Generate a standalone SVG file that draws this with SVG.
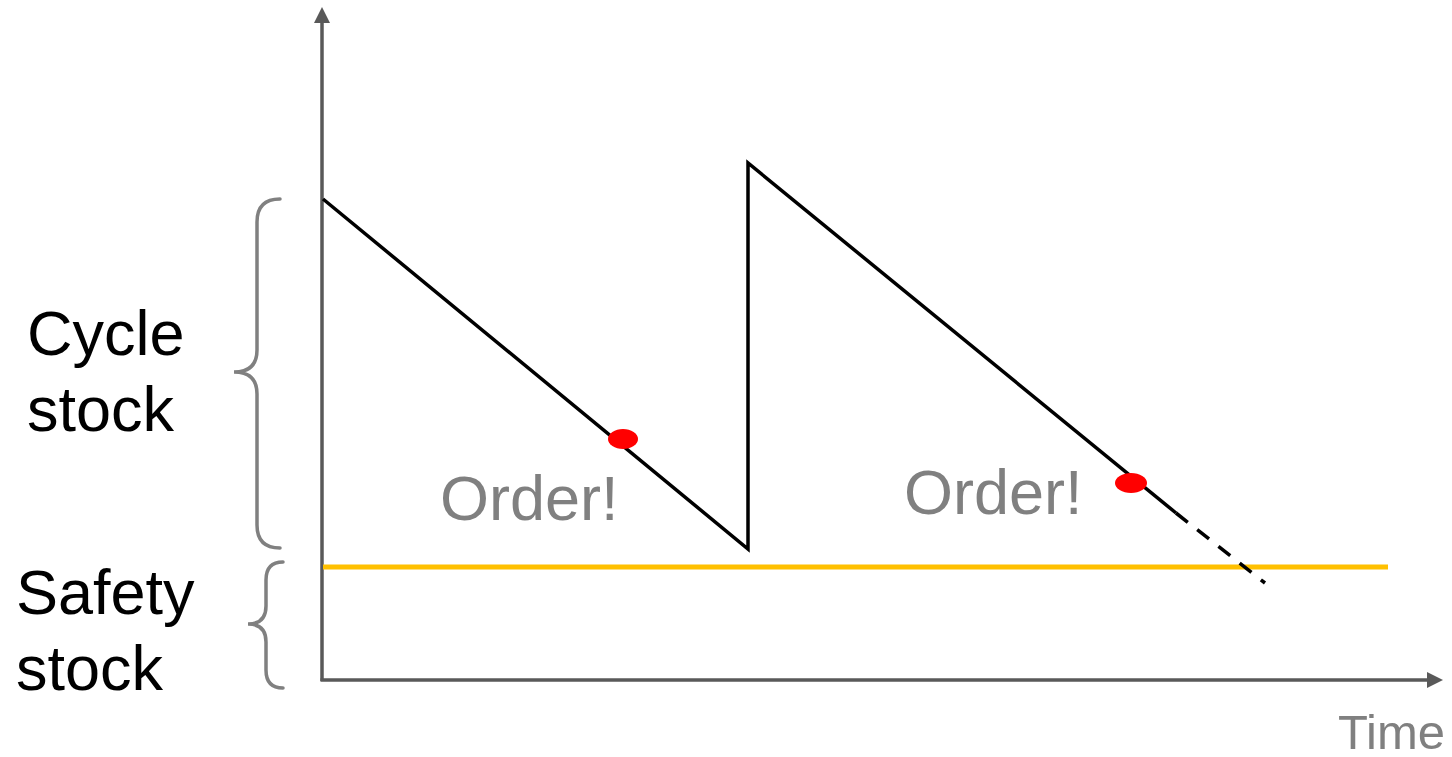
<svg xmlns="http://www.w3.org/2000/svg" width="1452" height="757" viewBox="0 0 1452 757">
<style>
.axis{stroke:#595959;stroke-width:3.5;fill:none}
.head{fill:#595959}
.brace{stroke:#808080;stroke-width:3.5;fill:none;stroke-linecap:round}
.saw{stroke:#000;stroke-width:3.5;fill:none}
.lbl{font-family:"Liberation Sans",Arial,sans-serif;font-size:63px;fill:#000}
.glbl{font-family:"Liberation Sans",Arial,sans-serif;font-size:63px;fill:#808080}
</style>
<rect width="1452" height="757" fill="#fff"/>
<g id="connectors">
<line class="axis" x1="322" y1="681" x2="322" y2="20"/>
<polygon class="head" points="322,7 330,23 314,23"/>
<line class="axis" x1="320.5" y1="680" x2="1430" y2="680"/>
<polygon class="head" points="1443,680 1427,672 1427,688"/>
<line x1="323" y1="567" x2="1388" y2="567" stroke="#FFC000" stroke-width="5"/>
<polyline class="saw" points="323,199 748,549 748,163 1176,513"/>
<line class="saw" x1="1176" y1="513" x2="1265" y2="583" stroke-dasharray="15,12"/>
</g>
<g id="cycle-brace"><path class="brace" d="M280,199 Q257,199 257,222 L257,350 Q257,372 234,372 Q257,372 257,394 L257,525 Q257,548 280,548"/></g>
<g id="safety-brace"><path class="brace" d="M283,562 Q266,562 266,580 L266,606 Q266,624 248,624 Q266,624 266,642 L266,670 Q266,688 283,688"/></g>
<g id="cycle-label"><text class="lbl" x="27" y="355">Cycle</text><text class="lbl" x="27" y="431">stock</text></g>
<g id="safety-label"><text class="lbl" x="16" y="614">Safety</text><text class="lbl" x="16" y="690">stock</text></g>
<g id="order1"><ellipse cx="623" cy="439" rx="15" ry="10" fill="#FF0000"/><text class="glbl" x="440" y="520">Order!</text></g>
<g id="order2"><ellipse cx="1131" cy="483" rx="16" ry="10" fill="#FF0000"/><text class="glbl" x="904" y="514">Order!</text></g>
<g id="time-label"><text class="glbl" x="1445" y="749" text-anchor="end" style="font-size:49px">Time</text></g>
</svg>
